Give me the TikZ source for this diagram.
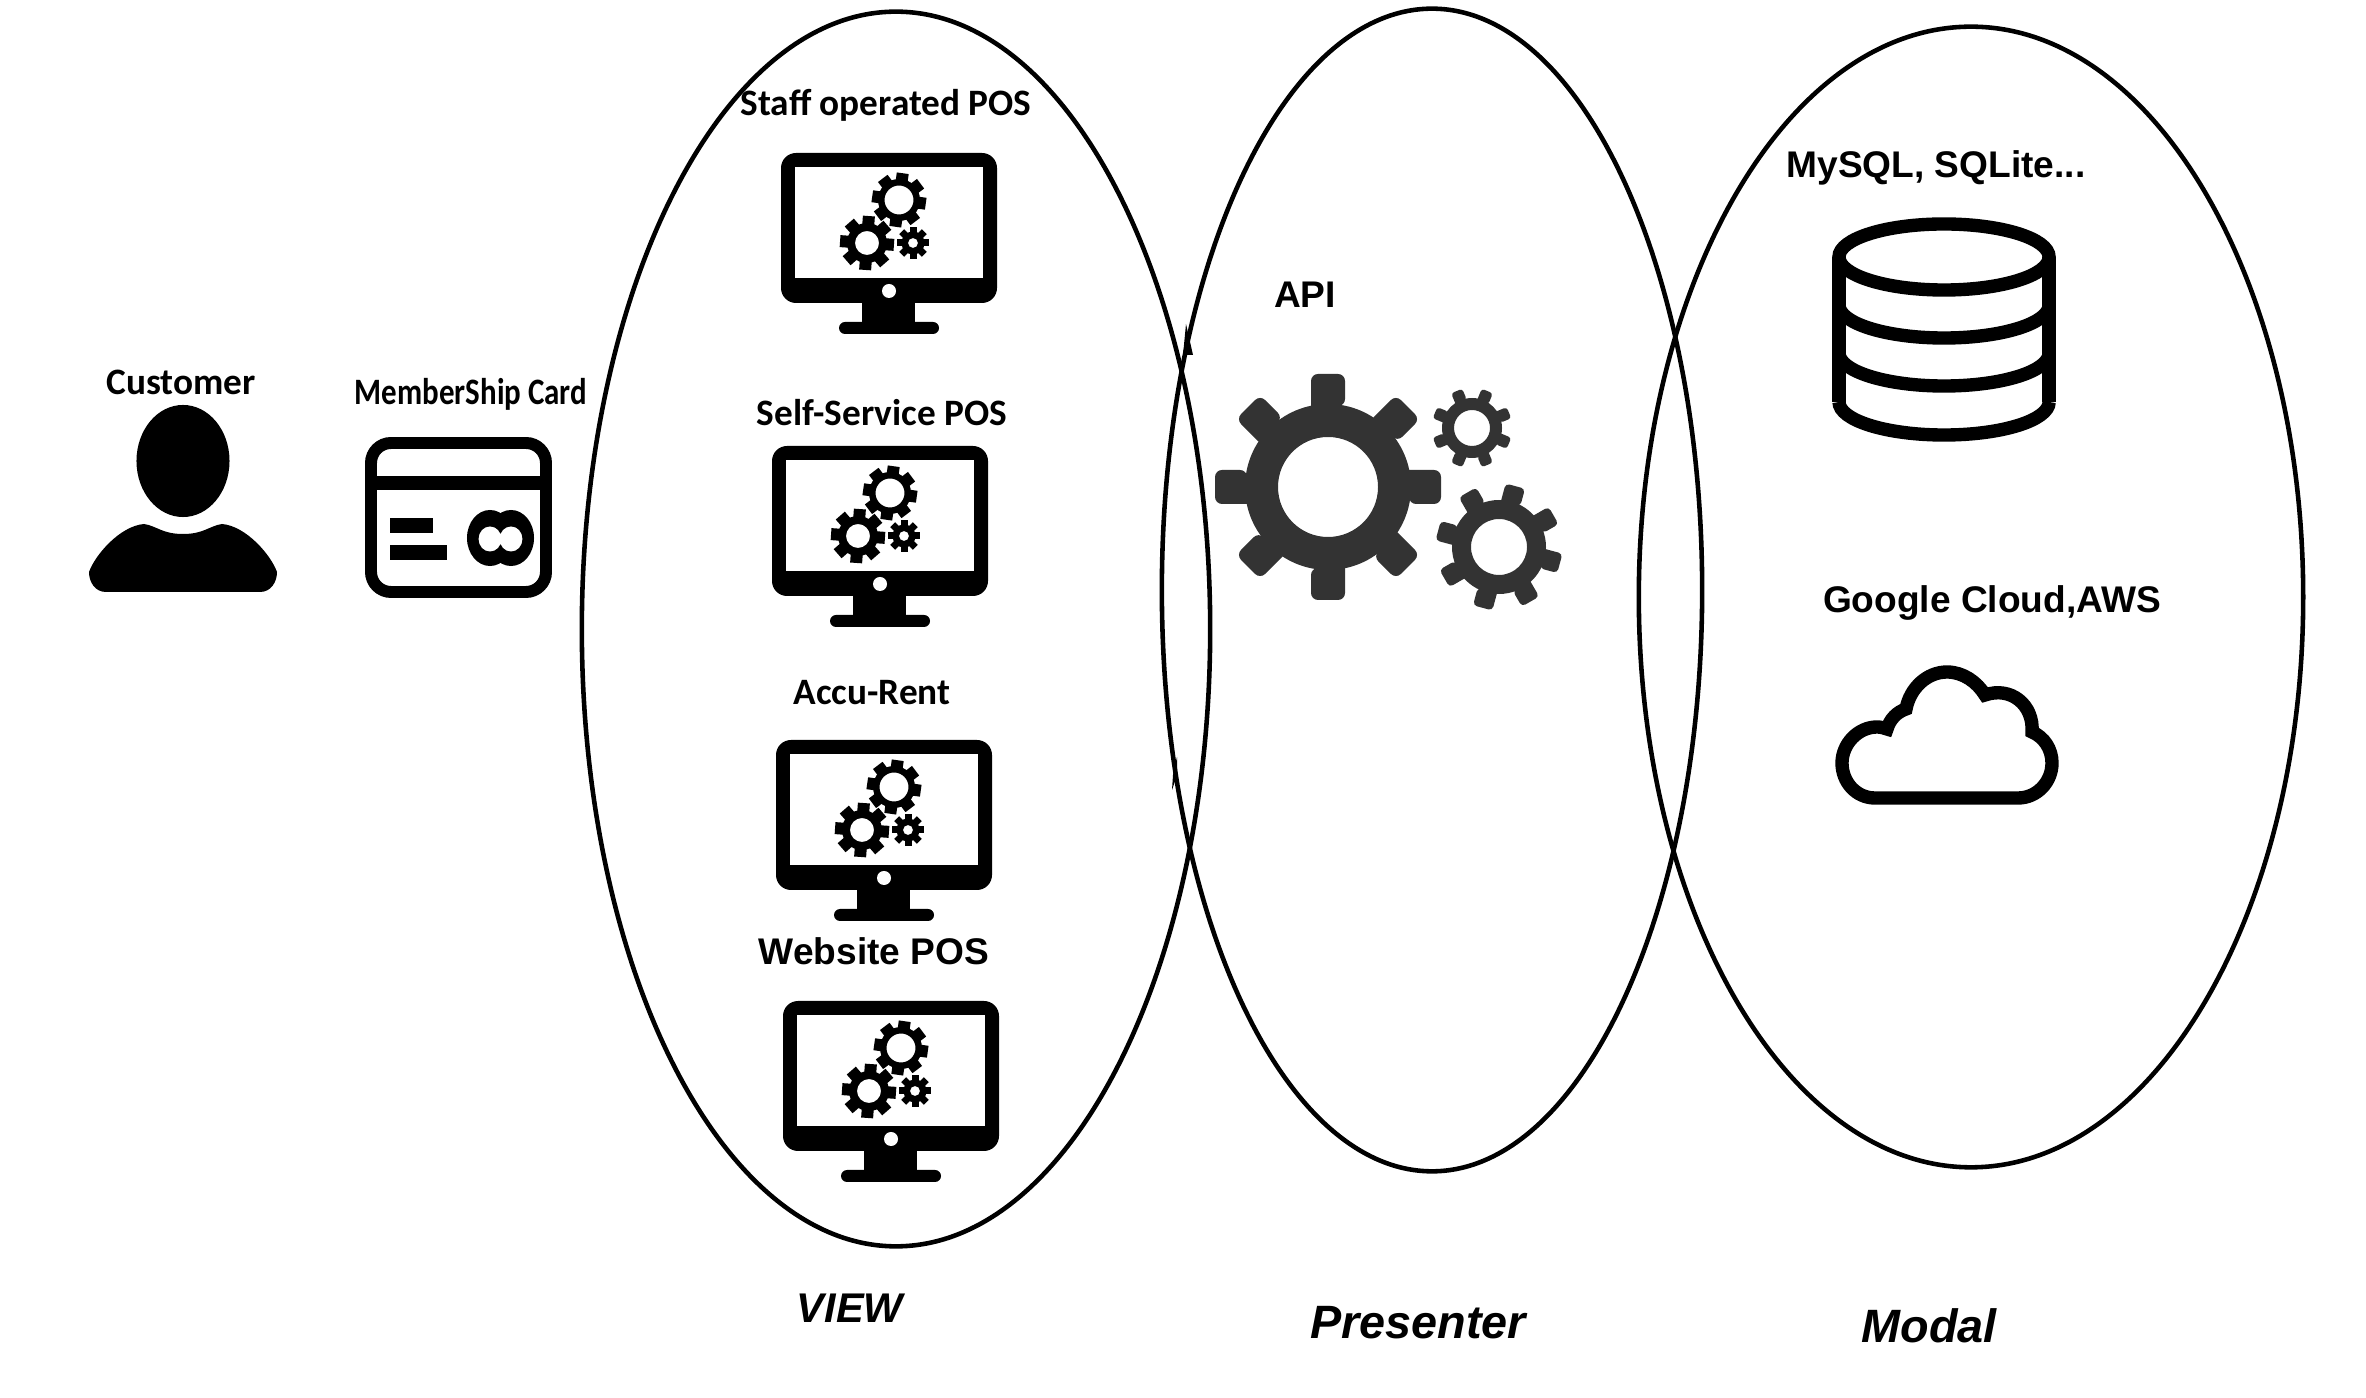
\documentclass[tikz,border=0pt]{standalone}
\usepackage{fontspec}
\setmainfont{Liberation Sans}
\newfontfamily\calibrifont{Carlito}
\newfontfamily\calibrinarrow[FakeStretch=0.83]{Carlito}
\definecolor{apigrey}{HTML}{333333}

% cx, cy, outer, body, hole, tooth half width, rotation, corner
\newcommand{\cogwheel}[8]{
\begin{scope}[shift={(#1,#2)}]
\fill [even odd rule] (0,0) circle [radius=#4*.01cm] (0,0) circle [radius=#5*.01cm];
\foreach \toothangle in {0,45,...,315} {
  \fill [rotate=#7+\toothangle, rounded corners=#8] (#4-2,-#6) -- (#3,-#6) -- (#3,#6) -- (#4-2,#6) [sharp corners] -- cycle;
}
\end{scope}
}

\tikzset{
  bubble/.style={line width=1.3pt},
  mvclabel/.style={font=\fontsize{13.3}{15}\selectfont\bfseries\itshape},
  sitelabel/.style={font=\calibrifont\fontsize{10.6}{13}\selectfont\bfseries},
  techlabel/.style={font=\fontsize{10.55}{13}\selectfont\bfseries},
  iconline/.style={line width=3.8pt},
  monitor/.pic={
    \fill [rounded corners=1.5mm] (0,0) rectangle (216,150);
    \fill [white] (14,14) rectangle (202,125);
    \fill [white] (108,138) circle [radius=.07cm];
    \fill (81,145) rectangle (134,175);
    \fill [rounded corners=.06cm] (58,169) rectangle (158,181);
    \cogwheel{118}{47}{27}{21}{14.5}{6}{37}{0pt}
    \cogwheel{86}{90}{27}{20}{12}{6}{41}{0pt}
    \cogwheel{132}{90}{16}{11.5}{5}{3.5}{0}{0pt}
  }
}

\begin{document}
\begin{tikzpicture}[x=.01cm,y=-.01cm]
\useasboundingbox (0,0) rectangle (2366,1398);

% the three bubbles
\draw [bubble] (896,629) ellipse (3.14cm and 6.17cm);
\draw [bubble] (1432,590) ellipse (2.70cm and 5.81cm);
\draw [bubble] (1971,597) ellipse (3.32cm and 5.70cm);
\fill (1186,324) -- (1193,355) -- (1183,355) -- cycle;
\fill (1177,757) -- (1177,775) -- (1172,790) -- (1173,775) -- cycle;

\node (viewlabel) [mvclabel, font=\fontsize{11.8}{15}\selectfont\bfseries\itshape] at (850,1308) {VIEW};
\node (presenterlabel) [mvclabel] at (1418,1323) {Presenter};
\node (modallabel) [mvclabel] at (1929,1326) {Modal};

% customer
\node (customerlabel) [sitelabel] at (181,382) {Customer};
\fill (183,461) ellipse (.465cm and .56cm);
\fill (106,592) .. controls (95,592) and (89,582) .. (89,572) .. controls (95,555) and (120,526) .. (144,524) .. controls (157,526) and (162,534) .. (183,534) .. controls (204,534) and (209,526) .. (222,524) .. controls (246,526) and (271,555) .. (277,572) .. controls (277,582) and (271,592) .. (260,592) -- cycle;

% card
\node (cardlabel) [sitelabel, font=\calibrinarrow\fontsize{10.6}{13}\selectfont\bfseries] at (471,394) {MemberShip Card};
\draw [line width=3.4pt, rounded corners=.2cm] (371,443) rectangle (546,592);
\fill (368,476) rectangle (549,490);
\fill (390,518) rectangle (433,533);
\fill (390,545) rectangle (447,560);
\fill (490,538) ellipse (.23cm and .28cm) (511,538) ellipse (.23cm and .28cm);
\fill [white] (490,539) ellipse (.114cm and .125cm) (511,539) ellipse (.114cm and .125cm);

% point of sale
\node (stafflabel) [sitelabel] at (886,105) {Staff operated POS};
\pic (staffpos) at (781,153) {monitor};
\node (selflabel) [sitelabel] at (882,413) {Self-Service POS};
\pic (selfpos) at (772,446) {monitor};
\node (accurentlabel) [sitelabel] at (872,693) {Accu-Rent};
\pic (accurent) at (776,740) {monitor};
\node (websitelabel) [techlabel] at (874,951) {Website POS};
\pic (websitepos) at (783,1001) {monitor};

% api
\node (apilabel) [techlabel] at (1305,295) {API};
\begin{scope}[apigrey]
\cogwheel{1328}{487}{113}{83}{50}{17}{0}{.07cm}
\cogwheel{1472}{428}{40}{30}{18}{6}{22.5}{.03cm}
\cogwheel{1499}{547}{63}{47}{28}{10}{30}{.04cm}
\end{scope}

% storage
\node (dblabel) [techlabel] at (1936,168) {MySQL, SQLite...};
\draw [iconline] (1944,257) ellipse (1.05cm and .33cm);
\draw [iconline] (1839,257) -- (1839,402);
\draw [iconline] (2049,257) -- (2049,402);
\foreach \bandy in {305,353,402} {
  \draw [iconline] (1839,\bandy) arc [start angle=180, end angle=360, x radius=1.05cm, y radius=.33cm];
}
\node (cloudlabel) [techlabel] at (1992,603) {Google Cloud,AWS};
\draw [iconline] (1875,798) .. controls (1856,798) and (1842,782) .. (1842,763) .. controls (1842,744) and (1858,727) .. (1877,727) .. controls (1881,727) and (1884,728) .. (1887,729) .. controls (1890,719) and (1897,712) .. (1906,709) .. controls (1910,688) and (1927,672) .. (1947,672) .. controls (1963,672) and (1977,682) .. (1985,695) .. controls (2011,686) and (2034,705) .. (2032,732) .. controls (2044,737) and (2052,749) .. (2052,763) .. controls (2052,782) and (2037,798) .. (2018,798) -- cycle;

\end{tikzpicture}
\end{document}
